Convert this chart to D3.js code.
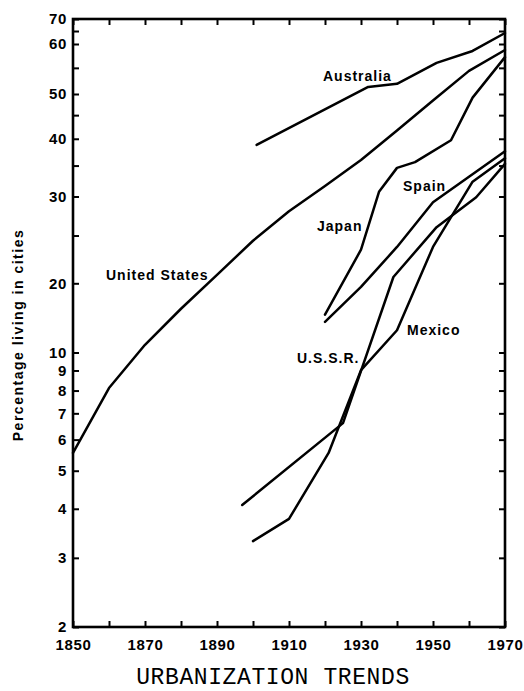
<!DOCTYPE html>
<html>
<head>
<meta charset="utf-8">
<script src="https://cdn.jsdelivr.net/npm/d3@7/dist/d3.min.js"></script>
<style>
  html, body { margin: 0; padding: 0; background: #fff; }
  svg { display: block; }
  .lbl { font-family: "Liberation Sans", Arial, Helvetica, sans-serif; font-weight: bold; }
</style>
</head>
<body>
<svg id="chart" width="524" height="691"></svg>
<script>
// ---- data (year, percentage living in cities) ----
const unitedStates = [[1850,5.55],[1860,8.12],[1870,10.8],[1880,15.5],[1890,20.8],[1900,24.4],[1910,28.0],[1920,31.6],[1930,36.0],[1940,41.7],[1950,48.4],[1960,54.4],[1970,58.7]];
const australia    = [[1901,38.8],[1932,51.3],[1940,51.9],[1951,56.0],[1961,58.5],[1970,64.2]];
const japan        = [[1920,14.6],[1930,23.4],[1935,30.7],[1940,34.6],[1945,35.6],[1955,39.7],[1961,49.1],[1970,57.2]];
const spain        = [[1920,13.6],[1930,19.3],[1940,23.7],[1950,29.2],[1960,33.1],[1970,37.6]];
const mexico       = [[1900,3.31],[1910,3.77],[1921,5.55],[1930,9.02],[1940,12.5],[1950,23.7],[1961,32.3],[1970,36.3]];
const ussr         = [[1897,4.09],[1925,6.61],[1939,20.6],[1951,26.0],[1962,29.9],[1970,35.3]];

const seriesNames  = ["United States","Australia","Japan","Spain","Mexico","U.S.S.R."];
const seriesData   = [unitedStates, australia, japan, spain, mexico, ussr];

const yTickLabels  = [2,3,4,5,6,7,8,9,10,20,30,40,50,60,70];
const yMinorTicks  = [25,35,45,55,65];
const xTicks       = [1850,1860,1870,1880,1890,1900,1910,1920,1930,1940,1950,1960,1970];
const xTickLabels  = [1850,1870,1890,1910,1930,1950,1970];

const titleText  = "URBANIZATION TRENDS";
const yAxisTitle = "Percentage living in cities";

// ---- layout ----
const svg = d3.select("#chart");
const L = 73, R = 505, T = 19, B = 627;

const x = d3.scaleLinear().domain([1850, 1970]).range([L, R]);
// the printed axis is a hand-made semi-log scale; follow its tick positions
const y = d3.scaleLog()
  .domain([2, 10, 20, 30, 50, 60, 70])
  .range([B, 352.5, 283.3, 196.5, 94, 44, T]);

const allY = yTickLabels.concat(yMinorTicks);
const fontSans = '"Liberation Sans", Arial, Helvetica, sans-serif';

function styleAxis(g) {
  g.select(".domain").remove();
  g.selectAll(".tick line").attr("stroke", "#000").attr("stroke-width", 2);
  g.selectAll(".tick text")
    .attr("fill", "#000")
    .style("font-family", fontSans)
    .style("font-weight", "bold")
    .style("font-size", "15px")
    .style("letter-spacing", "0.6px");
}

// left axis
svg.append("g")
  .attr("transform", `translate(${L},0)`)
  .call(d3.axisLeft(y).tickValues(allY).tickSize(-6).tickPadding(6)
        .tickFormat(d => yTickLabels.includes(d) ? String(d) : ""))
  .call(styleAxis);

// right axis
svg.append("g")
  .attr("transform", `translate(${R},0)`)
  .call(d3.axisRight(y).tickValues(allY).tickSize(-6).tickFormat(""))
  .call(styleAxis);

// bottom axis
svg.append("g")
  .attr("transform", `translate(0,${B})`)
  .call(d3.axisBottom(x).tickValues(xTicks).tickSize(-6).tickPadding(12)
        .tickFormat(d => xTickLabels.includes(d) ? String(d) : ""))
  .call(styleAxis);

// top axis
svg.append("g")
  .attr("transform", `translate(0,${T})`)
  .call(d3.axisTop(x).tickValues(xTicks).tickSize(-6).tickFormat(""))
  .call(styleAxis);

// frame
svg.append("rect")
  .attr("x", L).attr("y", T)
  .attr("width", R - L).attr("height", B - T)
  .attr("fill", "none").attr("stroke", "#000").attr("stroke-width", 2.6);

// lines
const line = d3.line().x(d => x(d[0])).y(d => y(d[1]));
svg.append("g").selectAll("path")
  .data(seriesData)
  .join("path")
  .attr("d", line)
  .attr("fill", "none")
  .attr("stroke", "#000")
  .attr("stroke-width", 2.5)
  .attr("stroke-linejoin", "round")
  .attr("stroke-linecap", "round");

// series labels
const labelPos = [
  [106, 280],  // United States
  [323, 81],   // Australia
  [317, 231],  // Japan
  [403, 191],  // Spain
  [407, 335],  // Mexico
  [297, 363]   // U.S.S.R.
];
svg.append("g").selectAll("text")
  .data(seriesNames)
  .join("text")
  .attr("class", "lbl")
  .attr("x", (d, i) => labelPos[i][0])
  .attr("y", (d, i) => labelPos[i][1])
  .style("font-size", "14px")
  .style("letter-spacing", "1px")
  .attr("fill", "#000")
  .text(d => d);

// y axis title
svg.append("text")
  .attr("class", "lbl")
  .attr("transform", "translate(23,335) rotate(-90)")
  .attr("text-anchor", "middle")
  .style("font-size", "14px")
  .style("letter-spacing", "1.5px")
  .attr("fill", "#000")
  .text(yAxisTitle);

// chart title
svg.append("text")
  .attr("x", 273).attr("y", 684)
  .attr("text-anchor", "middle")
  .style("font-family", '"Liberation Mono", "Courier New", Courier, monospace')
  .style("font-size", "23px")
  .style("letter-spacing", "0.6px")
  .attr("fill", "#000")
  .text(titleText);
</script>
</body>
</html>
